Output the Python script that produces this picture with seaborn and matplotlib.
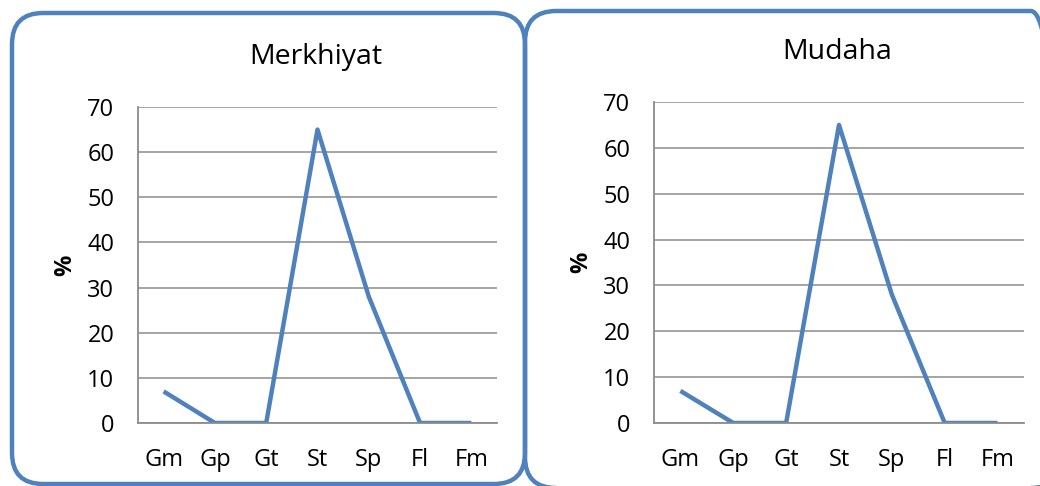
"""
Grain-size class distribution for two sites (Merkhiyat, Mudaha)
"""

import matplotlib
matplotlib.use("Agg")
import matplotlib.pyplot as plt
from matplotlib.patches import FancyBboxPatch
import seaborn as sns
import pandas as pd

# Data
CLASSES = ["Gm", "Gp", "Gt", "St", "Sp", "Fl", "Fm"]
MERKHIYAT = [7, 0, 0, 65, 28, 0, 0]
MUDAHA = [7, 0, 0, 65, 28, 0, 0]
Y_TICKS = [0, 10, 20, 30, 40, 50, 60, 70]

LINE_COLOR = "#4F81BD"
GRID_COLOR = "#8C8C8C"

sns.set_theme(style="white")
plt.rcParams["font.family"] = ["Open Sans", "DejaVu Sans"]
plt.rcParams["text.color"] = "black"
plt.rcParams["axes.labelcolor"] = "black"


def draw_panel(ax, values, title, title_y):
    """One line panel in the Excel style"""
    df = pd.DataFrame({"cls": range(len(CLASSES)), "pct": values})
    sns.lineplot(data=df, x="cls", y="pct", ax=ax, color=LINE_COLOR,
                 linewidth=3.2, solid_capstyle="butt")
    ax.set_xlim(-0.5, len(CLASSES) - 0.5)
    ax.set_ylim(0, 70)
    ax.set_xticks(range(len(CLASSES)))
    ax.set_xticklabels(CLASSES)
    ax.set_yticks(Y_TICKS)
    ax.yaxis.grid(True, color=GRID_COLOR, linewidth=1.1)
    ax.set_axisbelow(True)
    for side in ["top", "right"]:
        ax.spines[side].set_visible(False)
    for side in ["left", "bottom"]:
        ax.spines[side].set_color(GRID_COLOR)
        ax.spines[side].set_linewidth(1.3)
    ax.tick_params(axis="y", length=0, pad=17, labelsize=17, labelcolor="black")
    ax.tick_params(axis="x", length=0, pad=18, labelsize=17, labelcolor="black")
    ax.set_xlabel("")
    ax.set_ylabel("%", fontsize=17, fontweight="bold", labelpad=7)
    pos = ax.get_position()
    ax.figure.text(pos.x0 + pos.width / 2 - 0.002, title_y, title,
                   ha="center", va="center", fontsize=20.5)


fig = plt.figure(figsize=(10.4, 4.86), dpi=100)

# rounded frames around each chart
for x0, y0, x1, y1 in [(12, 13, 525, 484), (525, 11, 1062, 488)]:
    box = FancyBboxPatch((x0 / 1040, (486 - y1) / 486), (x1 - x0) / 1040, (y1 - y0) / 486,
                         boxstyle="round,pad=0,rounding_size=0.03",
                         transform=fig.transFigure, facecolor="none",
                         edgecolor=LINE_COLOR, linewidth=3.2,
                         mutation_aspect=1040 / 486, clip_on=False)
    fig.patches.append(box)

ax1 = fig.add_axes([138 / 1040, 63 / 486, 359 / 1040, 316 / 486])
ax2 = fig.add_axes([654 / 1040, 63 / 486, 370 / 1040, 321 / 486])

draw_panel(ax1, MERKHIYAT, "Merkhiyat", 1 - 57 / 486)
draw_panel(ax2, MUDAHA, "Mudaha", 1 - 52 / 486)

fig.savefig("out.png", dpi=100)
plt.close(fig)
